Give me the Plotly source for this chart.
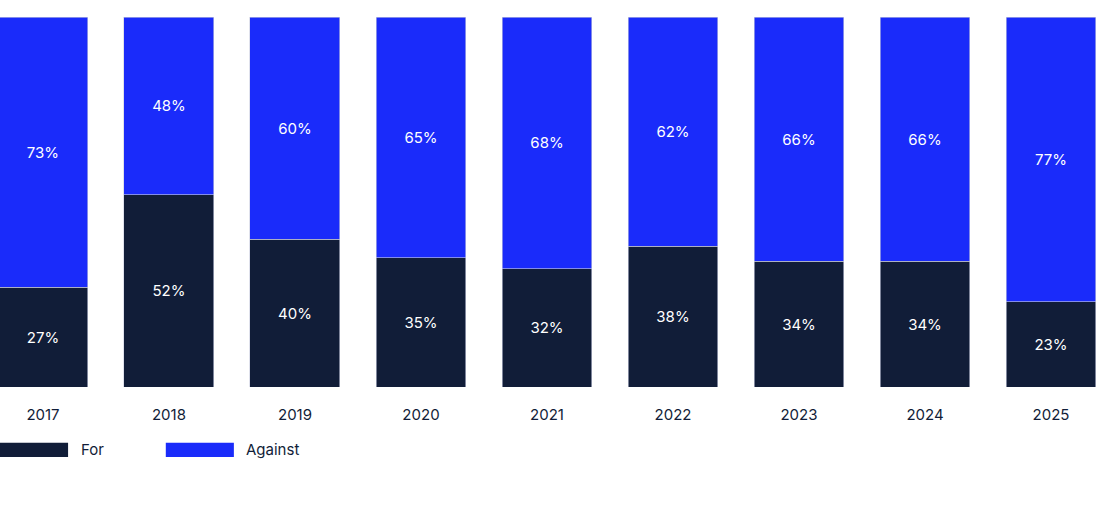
import plotly.graph_objects as go

years = ["2017", "2018", "2019", "2020", "2021", "2022", "2023", "2024", "2025"]
for_pct = [27, 52, 40, 35, 32, 38, 34, 34, 23]
against_pct = [73, 48, 60, 65, 68, 62, 66, 66, 77]

navy = "#111d38"
blue = "#1a2bfa"
font = "Inter, 'Noto Sans', sans-serif"

fig = go.Figure()

for name, vals, color in [("For", for_pct, navy), ("Against", against_pct, blue)]:
    fig.add_trace(go.Bar(
        x=years, y=vals, name=name,
        marker=dict(color=color, line=dict(color="#c9cde0", width=0.6)),
        text=[f"{v}%" for v in vals],
        textposition="inside", insidetextanchor="middle",
        textfont=dict(color="white", size=15, family=font),
    ))

# legend drawn by hand: long flat swatches
legend_items = [("For", navy, 0.0), ("Against", blue, 0.151)]
for label, color, x0 in legend_items:
    fig.add_shape(type="rect", xref="paper", yref="paper",
                  x0=x0, x1=x0 + 0.062, y0=-0.189, y1=-0.151,
                  fillcolor=color, line=dict(color=color, width=0))
    fig.add_annotation(text=label, xref="paper", yref="paper",
                       x=x0 + 0.0715, y=-0.170, xanchor="left", yanchor="middle",
                       showarrow=False, font=dict(size=15, color=navy, family=font))

fig.update_layout(
    barmode="stack",
    bargap=0.286,
    width=1098, height=518,
    margin=dict(l=0, r=0, t=17, b=131),
    plot_bgcolor="white", paper_bgcolor="white",
    showlegend=False,
    font=dict(family=font, size=15, color=navy),
    xaxis=dict(range=[-0.341, 8.373], showgrid=False, zeroline=False,
               showline=False, ticks="", ticklabelstandoff=17,
               tickfont=dict(size=15, color=navy)),
    yaxis=dict(range=[0, 100], visible=False),
)

# drop the page's default body margin so the figure sits at the corner
fig.write_html("out.html", config={"displayModeBar": False},
               post_script="document.body.style.margin='0';")
